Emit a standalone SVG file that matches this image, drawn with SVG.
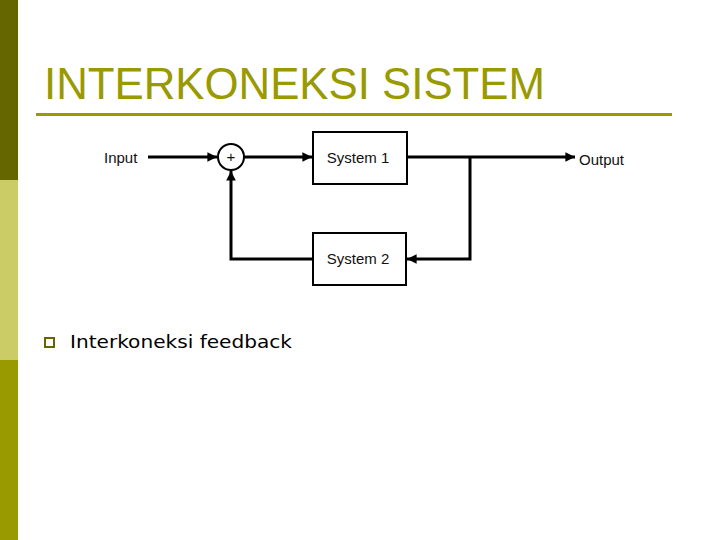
<svg xmlns="http://www.w3.org/2000/svg" width="720" height="540" viewBox="0 0 720 540">
<defs>
<style>
.lbl{font-family:"Liberation Sans",Arial,sans-serif;font-size:15px;fill:#111}
.box{fill:#fff;stroke:#000;stroke-width:2}
.ln{fill:none;stroke:#000;stroke-width:3}
</style>
<marker id="ah" viewBox="0 0 10 10" refX="10" refY="5" markerWidth="4" markerHeight="3.2" orient="auto" markerUnits="strokeWidth">
<path d="M0,0 L10,5 L0,10 z" fill="#000"/>
</marker>
</defs>
<rect width="720" height="540" fill="#fff"/>
<rect x="0" y="0" width="18" height="180" fill="#666600"/>
<rect x="0" y="180" width="18" height="180" fill="#CCCC66"/>
<rect x="0" y="360" width="18" height="180" fill="#999900"/>
<text x="44" y="99" font-family="'Liberation Sans Narrow','Liberation Sans',Arial,sans-serif" font-size="44" fill="#999900" textLength="501" lengthAdjust="spacingAndGlyphs">INTERKONEKSI SISTEM</text>
<rect x="36" y="113" width="636" height="3" fill="#999900"/>
<g id="connectors">
<line class="ln" x1="148" y1="157" x2="217" y2="157" marker-end="url(#ah)"/>
<line class="ln" x1="244" y1="157" x2="312" y2="157" marker-end="url(#ah)"/>
<line class="ln" x1="407" y1="157" x2="575" y2="157" marker-end="url(#ah)"/>
<polyline class="ln" points="470,157 470,259 407,259" marker-end="url(#ah)"/>
<polyline class="ln" points="313,259 231,259 231,171" marker-end="url(#ah)"/>
</g>
<g id="input"><text class="lbl" x="104" y="163">Input</text></g>
<g id="sum">
<circle cx="231" cy="157" r="13" fill="#fff" stroke="#000" stroke-width="2"/>
<text class="lbl" x="231" y="162" text-anchor="middle" font-size="14">+</text>
</g>
<g id="system1">
<rect class="box" x="313" y="132" width="94" height="52"/>
<text class="lbl" x="358" y="163" text-anchor="middle">System 1</text>
</g>
<g id="system2">
<rect class="box" x="313" y="233" width="93" height="52"/>
<text class="lbl" x="358" y="264" text-anchor="middle">System 2</text>
</g>
<g id="output"><text class="lbl" x="579" y="165">Output</text></g>
<rect x="45" y="338" width="9" height="9" fill="none" stroke="#666600" stroke-width="2"/>
<text x="70" y="348" font-family="'DejaVu Sans',Verdana,sans-serif" font-size="18" fill="#000" textLength="222" lengthAdjust="spacingAndGlyphs">Interkoneksi feedback</text>
</svg>
